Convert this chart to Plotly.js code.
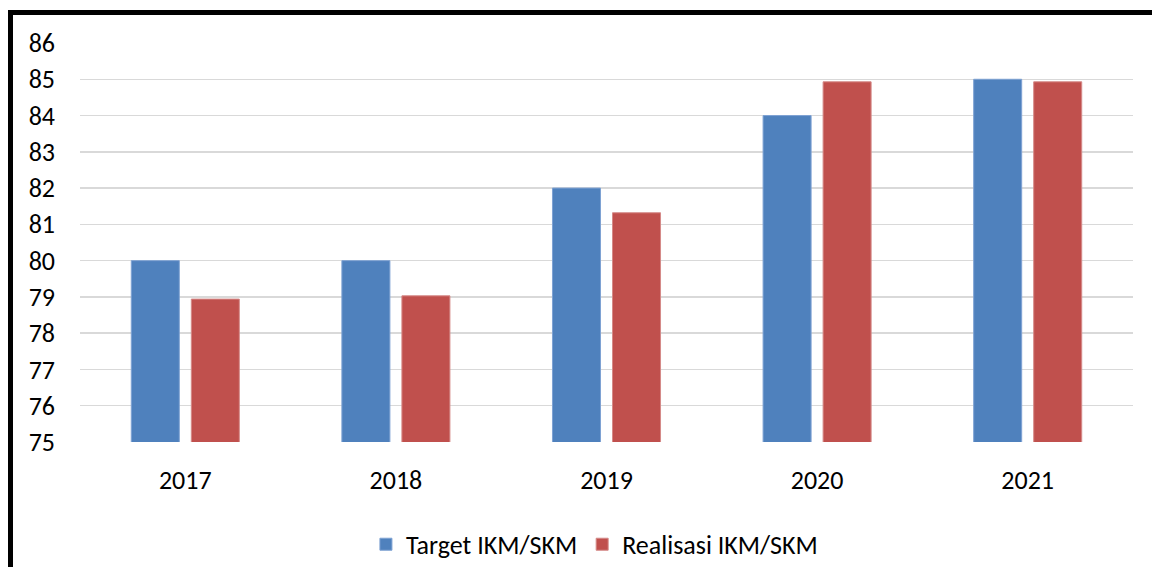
<!DOCTYPE html>
<html>
<head>
<meta charset="utf-8">
<script src="https://cdn.plot.ly/plotly-3.0.1.min.js"></script>
<style>
  html, body { margin: 0; padding: 0; background: #fff; }
  #wrap { position: relative; width: 1152px; height: 567px; overflow: hidden; }
  #chart { width: 1152px; height: 567px; }
  #frame { position: absolute; left: 8px; top: 10px; width: 1200px; height: 600px;
           border-left: 5px solid #000; border-top: 5px solid #000; pointer-events: none; }
</style>
</head>
<body>
<div id="wrap">
  <div id="chart"></div>
  <div id="frame"></div>
</div>
<script>
const years = ['2017', '2018', '2019', '2020', '2021'];
const targetValues = [80, 80, 82, 84, 85];
const realisasiValues = [78.94, 79.03, 81.32, 84.93, 84.93];
const seriesNames = ['Target IKM/SKM', 'Realisasi IKM/SKM'];
const yTicks = [75, 76, 77, 78, 79, 80, 81, 82, 83, 84, 85, 86];

const font = 'Carlito, Lato, "Open Sans", sans-serif';

const traces = [
  { type: 'bar', name: seriesNames[0], x: years, y: targetValues,
    marker: { color: '#4f81bd', line: { color: '#7ea2d3', width: 1 } }, hoverinfo: 'x+y' },
  { type: 'bar', name: seriesNames[1], x: years, y: realisasiValues,
    marker: { color: '#c0504d', line: { color: '#d58a88', width: 1 } }, hoverinfo: 'x+y' }
];

const layout = {
  width: 1152, height: 567,
  margin: { l: 80, r: 19, t: 43, b: 125, autoexpand: false },
  paper_bgcolor: '#ffffff', plot_bgcolor: '#ffffff',
  barmode: 'group', bargap: 0.43, bargroupgap: 0.2,
  font: { family: font, size: 26, color: '#000' },
  xaxis: { type: 'category', showline: false, showgrid: false, ticks: '', automargin: false,
           ticklabelstandoff: 20,
           tickfont: { family: font, size: 26, color: '#000' } },
  yaxis: { range: [75, 86], tickvals: yTicks, ticktext: yTicks.map(String), automargin: false,
           showgrid: true, gridcolor: '#d9d9d9', gridwidth: 1.5,
           zeroline: false, showline: false, ticks: '', ticklabelstandoff: 24,
           tickfont: { family: font, size: 26, color: '#000' } },
  showlegend: true,
  legend: { orientation: 'h', xref: 'container', x: 0.516, xanchor: 'center',
            yref: 'container', y: 0.04, yanchor: 'middle',
            font: { family: font, size: 26, color: '#000' }, itemwidth: 30, traceorder: 'normal' }
};

Plotly.newPlot('chart', traces, layout, { displayModeBar: false, staticPlot: true });
</script>
</body>
</html>
